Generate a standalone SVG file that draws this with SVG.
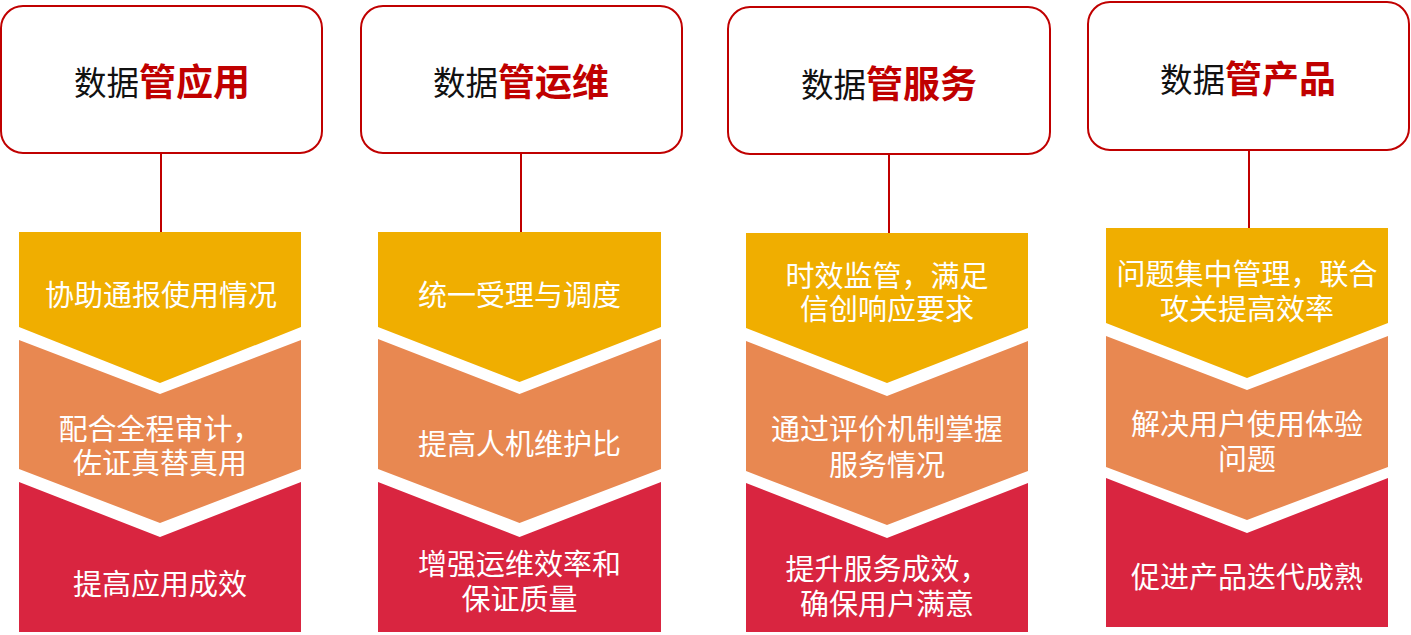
<svg xmlns="http://www.w3.org/2000/svg" width="1411" height="635" viewBox="0 0 1411 635">
<style>
.box{fill:#fff;stroke:#c00000;stroke-width:2}
.conn{stroke:#c00000;stroke-width:2;fill:none}
.y{fill:#f0ae00}
.o{fill:#e88851}
.r{fill:#d92540}
.h{font-family:"Noto Sans CJK SC","Noto Sans",sans-serif;text-anchor:middle;dominant-baseline:central}
.hn{font-size:32.5px;fill:#111}
.hb{font-size:37px;font-weight:bold;fill:#c00000}
.t{font-family:"Noto Sans CJK SC","Noto Sans",sans-serif;font-size:29px;fill:#fff;text-anchor:middle;dominant-baseline:central}
</style>
<rect width="1411" height="635" fill="#fff"/>
<g id="connectors">
<line class="conn" x1="161" y1="153" x2="161" y2="232"/>
<line class="conn" x1="521" y1="153" x2="521" y2="232"/>
<line class="conn" x1="889" y1="154" x2="889" y2="233"/>
<line class="conn" x1="1249" y1="150" x2="1249" y2="228"/>
</g>
<g id="head1"><rect class="box" x="1" y="6" width="321" height="147" rx="22"/><text class="h" x="162" y="80"><tspan class="hn">数据</tspan><tspan class="hb">管应用</tspan></text></g>
<g id="head2"><rect class="box" x="361" y="6" width="321" height="147" rx="22"/><text class="h" x="521" y="80"><tspan class="hn">数据</tspan><tspan class="hb">管运维</tspan></text></g>
<g id="head3"><rect class="box" x="728" y="7" width="322" height="147" rx="22"/><text class="h" x="889" y="82"><tspan class="hn">数据</tspan><tspan class="hb">管服务</tspan></text></g>
<g id="head4"><rect class="box" x="1088" y="2" width="321" height="148" rx="22"/><text class="h" x="1248" y="77"><tspan class="hn">数据</tspan><tspan class="hb">管产品</tspan></text></g>

<g id="c1s1"><polygon class="y" points="19,232 301,232 301,327 160,383 19,327"/><text class="t" x="161" y="293">协助通报使用情况</text></g>
<g id="c1s2"><polygon class="o" points="19,340 160,394 301,340 301,469 160,523 19,469"/><text class="t" x="160" y="427">配合全程审计，<tspan x="160" dy="34">佐证真替真用</tspan></text></g>
<g id="c1s3"><polygon class="r" points="19,482 160,537 301,482 301,632 19,632"/><text class="t" x="160" y="582">提高应用成效</text></g>

<g id="c2s1"><polygon class="y" points="378,232 661,232 661,327 519.5,382 378,327"/><text class="t" x="519.5" y="293">统一受理与调度</text></g>
<g id="c2s2"><polygon class="o" points="378,339 519.5,394 661,339 661,469 519.5,523 378,469"/><text class="t" x="519.5" y="442">提高人机维护比</text></g>
<g id="c2s3"><polygon class="r" points="378,482 519.5,537 661,482 661,632 378,632"/><text class="t" x="519.5" y="562">增强运维效率和<tspan x="519.5" dy="35">保证质量</tspan></text></g>

<g id="c3s1"><polygon class="y" points="746,233 1028,233 1028,328 887,383 746,328"/><text class="t" x="887" y="274">时效监管，满足<tspan x="887" dy="33">信创响应要求</tspan></text></g>
<g id="c3s2"><polygon class="o" points="746,341 887,396 1028,341 1028,471 887,525 746,471"/><text class="t" x="887" y="427">通过评价机制掌握<tspan x="887" dy="36">服务情况</tspan></text></g>
<g id="c3s3"><polygon class="r" points="746,483 887,538 1028,483 1028,632 746,632"/><text class="t" x="887" y="567">提升服务成效，<tspan x="887" dy="35">确保用户满意</tspan></text></g>

<g id="c4s1"><polygon class="y" points="1106,228 1388,228 1388,323 1247,378 1106,323"/><text class="t" x="1247" y="272">问题集中管理，联合<tspan x="1247" dy="35">攻关提高效率</tspan></text></g>
<g id="c4s2"><polygon class="o" points="1106,336 1247,390 1388,336 1388,467 1247,520 1106,467"/><text class="t" x="1247" y="422">解决用户使用体验<tspan x="1247" dy="35">问题</tspan></text></g>
<g id="c4s3"><polygon class="r" points="1106,478 1247,533 1388,478 1388,627 1106,627"/><text class="t" x="1247" y="575">促进产品迭代成熟</text></g>
</svg>
